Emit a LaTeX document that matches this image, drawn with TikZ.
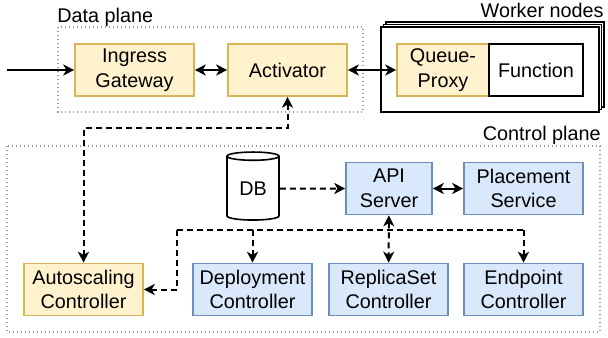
\documentclass[tikz,border=0pt]{standalone}
\usepackage{fontspec}
\setmainfont{Liberation Sans}
\usetikzlibrary{arrows.meta,shapes.geometric}
\definecolor{yfill}{HTML}{FFF2CC}
\definecolor{yline}{HTML}{D6B656}
\definecolor{bfill}{HTML}{DAE8FC}
\definecolor{bline}{HTML}{6C8EBF}
\definecolor{dotline}{HTML}{9A9A9A}
\tikzset{
	>={Stealth[length=5.5pt,width=5.5pt,inset=1.6pt]},
	textfont/.style={font=\fontsize{9.9}{12.4}\selectfont},
	box/.style={draw, line width=0.8pt, align=center, inner sep=1pt, minimum height=26pt, textfont},
	ybox/.style={box, fill=yfill, draw=yline},
	bbox/.style={box, fill=bfill, draw=bline},
	plane/.style={draw=dotline, line width=0.6pt, dash pattern=on 0.6pt off 1.4pt},
	planetitle/.style={inner sep=0pt, textfont},
	link/.style={line width=1pt},
	dlink/.style={link, dash pattern=on 3pt off 2pt},
}
\begin{document}
\begin{tikzpicture}[x=0.5pt,y=-0.5pt]
	\useasboundingbox (0,0) rectangle (608,337);
	% planes
	\draw[plane] (58,27) rectangle (363,112);
	\draw[plane] (7,146) rectangle (600,332);
	\node[planetitle, anchor=base west] (dptitle) at (57,22) {Data plane};
	\node[planetitle, anchor=base east] (cptitle) at (601,140) {Control plane};
	\node[planetitle, anchor=base east] (wntitle) at (604,18) {Worker nodes};
	% worker nodes
	\foreach \o in {5,2.5,0}
		\draw[line width=0.8pt, fill=white] (381+\o,27-\o) rectangle (599+\o,112-\o);
	% data plane
	\node[ybox, minimum width=59.5pt] (ingress) at (134.5,70) {Ingress\\Gateway};
	\node[ybox, minimum width=59.5pt] (activator) at (287.5,70) {Activator};
	\node[ybox, minimum width=46pt] (queue) at (443,70) {Queue-\\Proxy};
	\node[box, fill=white, minimum width=47pt] (function) at (536,70) {Function};
	% control plane
	\node[cylinder, shape border rotate=90, draw, line width=0.8pt, fill=white, aspect=0.3,
	      minimum width=26pt, minimum height=34pt, inner sep=0pt, textfont] (db) at (253,188.5) {DB};
	\node[bbox, minimum width=43pt] (api) at (389,188.5) {API\\Server};
	\node[bbox, minimum width=59.5pt] (placement) at (523.5,188.5) {Placement\\Service};
	\node[ybox, minimum width=59.5pt] (autoscaling) at (83.5,289.5) {Autoscaling\\Controller};
	\node[bbox, minimum width=59.5pt] (deployment) at (252.5,289.5) {Deployment\\Controller};
	\node[bbox, minimum width=59.5pt] (replicaset) at (388.5,289.5) {ReplicaSet\\Controller};
	\node[bbox, minimum width=59.5pt] (endpoint) at (523.5,289.5) {Endpoint\\Controller};
	% links
	\coordinate (input) at (7,70);
	\coordinate (actbend) at (287.5,128);
	\coordinate (busl) at (177,230);
	\coordinate (busr) at (523.5,230);
	\draw[link, ->] (input) -- (ingress);
	\draw[link, <->] (ingress) -- (activator);
	\draw[link, <->] (activator) -- (queue);
	\draw[dlink, <->] (activator) -- (actbend) -| (autoscaling);
	\draw[dlink, ->] (db) -- (api);
	\draw[link, <->] (api) -- (placement);
	\draw[dlink, <->] (api) -- (replicaset);
	\draw[dlink] (busl) -- (busr);
	\draw[dlink, ->] (busr) -- (endpoint);
	\draw[dlink, ->] (deployment |- busl) -- (deployment);
	\draw[dlink, ->] (busl) |- (autoscaling);
\end{tikzpicture}
\end{document}
